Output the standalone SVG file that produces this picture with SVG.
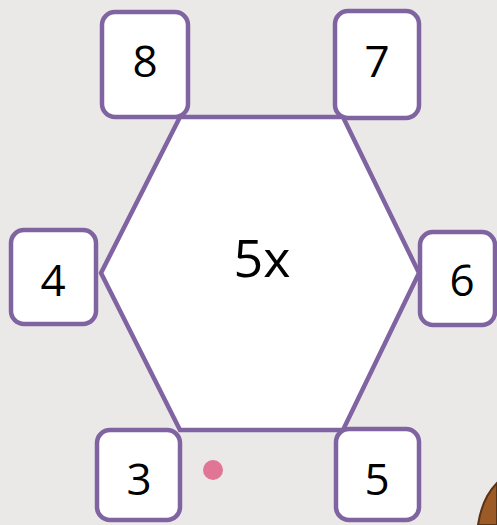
<svg xmlns="http://www.w3.org/2000/svg" width="497" height="525" viewBox="0 0 497 525">
  <style>
    .box { fill: #ffffff; stroke: #8064a2; stroke-width: 4.5; }
    .hex { fill: #ffffff; stroke: #8064a2; stroke-width: 4.5; stroke-linejoin: miter; }
    .lbl { font-family: "Open Sans", "Noto Sans", sans-serif; font-size: 44px; fill: #000000; text-anchor: middle; }
    .big { font-size: 52px; }
  </style>
  <rect x="0" y="0" width="497" height="525" fill="#ebe9e8"/>
  <g id="hexagon">
    <polygon class="hex" points="180,117 343,117 419,273 343,430 180,430 101,273"/>
    <text class="lbl big" x="262" y="277">5x</text>
  </g>
  <g id="connectors"></g>
  <g id="n8">
    <rect class="box" x="102" y="12" width="86" height="105" rx="13"/>
    <text class="lbl" x="145" y="77">8</text>
  </g>
  <g id="n7">
    <rect class="box" x="335" y="11" width="84" height="107" rx="13"/>
    <text class="lbl" x="377" y="77">7</text>
  </g>
  <g id="n4">
    <rect class="box" x="11" y="230" width="85" height="94" rx="13"/>
    <text class="lbl" x="53" y="296">4</text>
  </g>
  <g id="n6">
    <rect class="box" x="420" y="232" width="75" height="93" rx="13"/>
    <text class="lbl" x="462" y="296">6</text>
  </g>
  <g id="n3">
    <rect class="box" x="97" y="430" width="83" height="90" rx="13"/>
    <text class="lbl" x="139" y="495">3</text>
  </g>
  <g id="n5">
    <rect class="box" x="336" y="429" width="83" height="91" rx="13"/>
    <text class="lbl" x="377" y="495">5</text>
  </g>
  <circle cx="213" cy="470" r="10" fill="#e07595"/>
  <path d="M478,525 Q482,498 497,483 L497,525 Z" fill="#9c5a26" stroke="#5a3214" stroke-width="2"/>
</svg>
